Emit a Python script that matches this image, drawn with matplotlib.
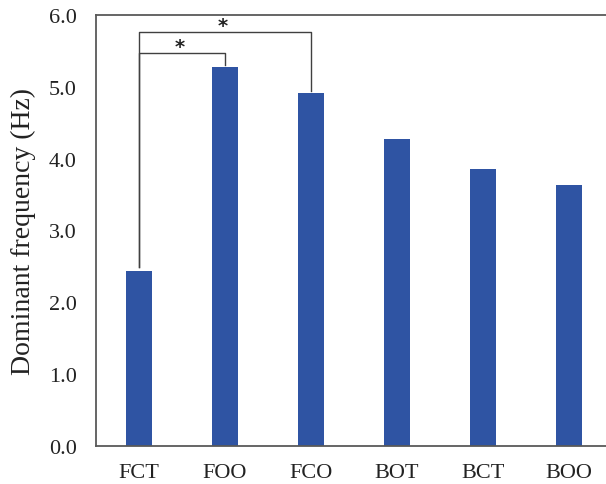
import matplotlib
matplotlib.use("Agg")
import matplotlib.pyplot as plt
from matplotlib import font_manager

categories = ["FCT", "FOO", "FCO", "BOT", "BCT", "BOO"]
values = [2.43, 5.27, 4.91, 4.27, 3.85, 3.64]
yticks = [0.0, 1.0, 2.0, 3.0, 4.0, 5.0, 6.0]
ytick_labels = ["0.0", "1.0", "2.0", "3.0", "4.0", "5.0", "6.0"]
# significance brackets: (left index, right index, bracket height)
brackets = [(0, 1, 5.47), (0, 2, 5.76)]

names = sorted({f.name for f in font_manager.fontManager.ttflist})
serif_choice = "Liberation Serif" if "Liberation Serif" in names else "DejaVu Serif"
plt.rcParams['font.family'] = 'serif'
plt.rcParams['font.serif'] = [serif_choice, 'Times New Roman', 'DejaVu Serif']

fig = plt.figure(figsize=(6.06, 4.85), dpi=100)
ax = fig.add_axes([96/606, 38/485, 516/606, 431/485])

x = list(range(len(categories)))
ax.bar(x, values, width=0.30, color="#2F54A3", zorder=2)

ax.set_xlim(-0.5, 5.5)
ax.set_ylim(0, 6.0)
ax.set_yticks(yticks)
ax.set_yticklabels(ytick_labels)
ax.set_xticks(x)
ax.set_xticklabels(categories)
ax.tick_params(axis='both', length=0, labelsize=16, colors="#222222")
ax.tick_params(axis='y', pad=14)
ax.tick_params(axis='x', pad=12)
ax.set_ylabel("Dominant frequency (Hz)", fontsize=20, color="#222222", labelpad=9)

for side in ["left", "bottom", "top"]:
    ax.spines[side].set_color("#595959")
    ax.spines[side].set_linewidth(1.3)
ax.spines["right"].set_visible(False)

gap = 0.06
for (i, j, h) in brackets:
    ax.plot([i, i, j, j], [values[i] + gap, h, h, values[j] + 0.03],
            color="#404040", lw=1.0, zorder=3)
    ax.text((i + j) / 2 - 0.03, h + 0.09, "*", ha="center", va="center",
            fontsize=14, fontweight="bold", color="#222222", family="DejaVu Sans")

fig.savefig("out.png", dpi=100)
